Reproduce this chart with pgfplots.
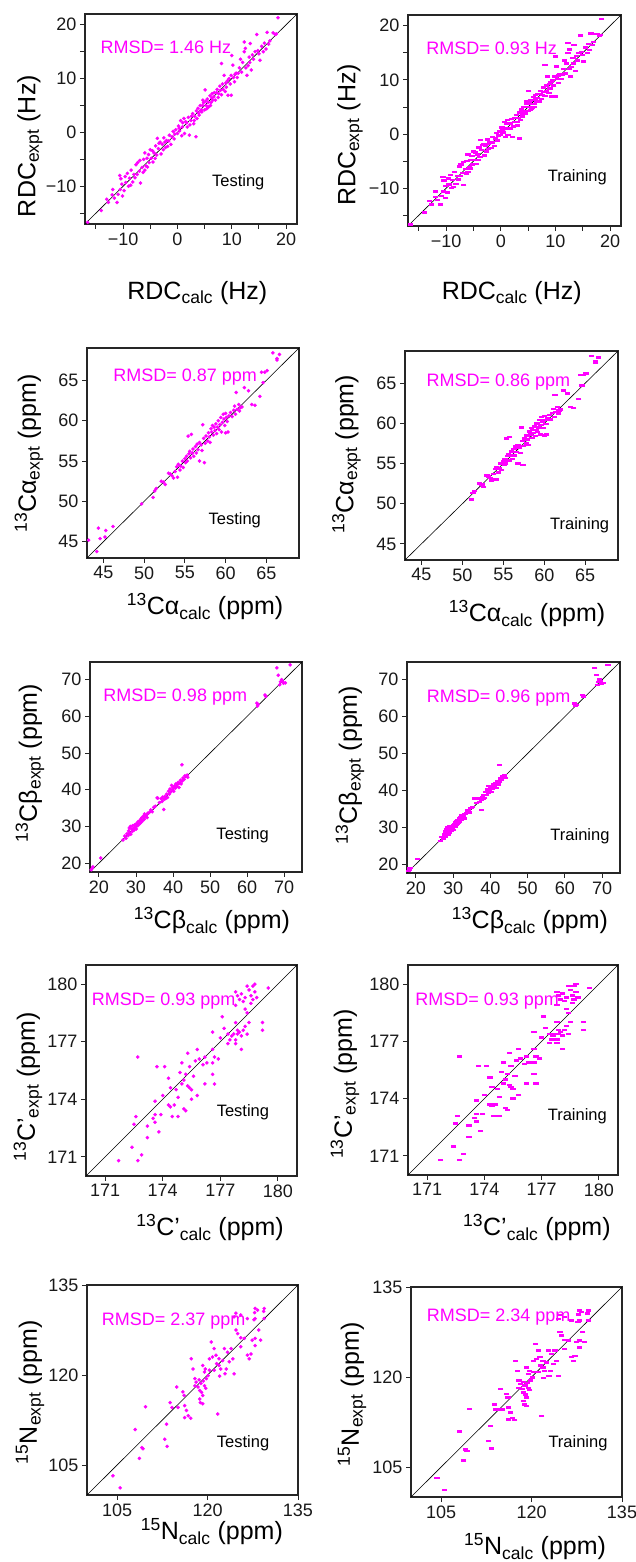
\documentclass[border=0pt]{standalone}
\usepackage{fontspec}
\setmainfont{Liberation Sans}
\usepackage{pgfplots}
\pgfplotsset{compat=1.18}
\usepackage{pgfplotstable}
\definecolor{mag}{RGB}{255,0,255}

\pgfplotstableread{
x y
-16.5 -16.7
-14.0 -14.5
-13.0 -12.4
-12.7 -13.0
-12.0 -11.6
-11.9 -10.6
-11.6 -12.2
-11.1 -13.0
-10.9 -11.5
-10.6 -8.0
-10.5 -10.6
-10.4 -8.6
-10.2 -9.6
-10.1 -11.8
-9.8 -10.8
-9.6 -8.2
-9.5 -9.3
-9.2 -7.6
-9.0 -10.0
-8.8 -8.5
-8.6 -9.8
-8.5 -7.0
-8.2 -9.2
-8.0 -7.8
-7.8 -8.4
-7.6 -6.0
-7.4 -7.8
-7.3 -5.6
-7.0 -7.2
-6.9 -5.2
-6.8 -9.4
-6.5 -6.5
-6.3 -7.4
-6.2 -5.0
-6.0 -3.8
-6.0 -7.0
-5.8 -6.2
-5.6 -4.8
-5.5 -6.4
-5.3 -4.1
-5.2 -5.6
-5.0 -3.2
-4.8 -4.8
-4.6 -3.4
-4.5 -5.5
-4.3 -3.8
-4.1 -4.8
-4.0 -2.5
-3.8 -4.2
-3.7 -1.1
-3.5 -3.0
-3.4 -2.0
-3.2 -1.8
-3.0 -4.0
-2.8 -2.2
-2.6 -3.2
-2.5 -1.0
-2.3 -1.8
-2.2 -2.8
-2.0 -1.5
-1.8 -2.6
-1.6 -1.6
-1.5 -0.5
-1.2 -2.2
-1.0 -0.8
-0.8 0.2
-0.6 -1.2
-0.5 -0.3
-0.3 0.5
0.0 -0.2
0.2 1.2
0.3 0.8
0.4 0.3
0.6 2.2
0.8 -0.6
0.9 1.0
1.0 1.8
1.2 2.6
1.3 -0.2
1.5 2.0
1.7 1.8
1.8 1.0
2.0 2.8
2.2 -0.5
2.3 1.4
2.5 2.2
2.6 3.0
2.8 3.5
3.0 1.6
3.1 2.2
3.2 3.0
3.4 -0.8
3.5 4.0
3.6 2.6
3.8 4.5
3.9 3.6
4.0 3.2
4.2 5.0
4.3 4.0
4.4 4.2
4.5 3.8
4.6 5.0
4.7 6.0
4.8 5.5
5.0 4.2
5.1 7.9
5.2 5.8
5.3 5.0
5.4 4.4
5.5 6.2
5.6 4.6
5.7 5.6
5.8 4.8
6.0 6.8
6.1 5.0
6.2 5.6
6.3 6.4
6.4 7.2
6.5 6.0
6.7 6.6
6.8 7.4
7.0 6.0
7.2 7.4
7.3 8.0
7.5 6.5
7.6 7.2
7.8 8.6
7.9 7.8
8.1 7.0
8.1 12.8
8.3 9.0
8.4 8.0
8.6 10.6
8.8 7.6
8.9 9.2
9.0 8.4
9.2 9.6
9.3 6.9
9.5 10.0
9.7 9.0
9.9 6.9
9.9 10.6
10.0 14.3
10.2 12.5
10.3 10.2
10.5 9.4
10.6 10.8
10.8 11.0
11.0 10.2
11.2 11.0
11.4 12.0
11.6 13.6
11.8 11.2
12.0 13.0
12.3 15.0
12.3 16.8
12.5 15.6
12.6 12.0
12.8 10.6
13.0 12.4
13.2 14.0
13.3 13.0
13.4 16.5
13.6 11.6
13.8 14.4
14.0 13.6
14.3 15.0
14.6 18.2
14.8 15.2
15.0 14.6
15.2 13.4
15.5 16.0
15.8 15.0
16.0 16.6
16.3 15.5
16.5 18.6
16.8 16.4
17.0 17.0
17.6 18.5
18.0 18.2
18.2 18.3
18.5 21.3
}\rdc

\pgfplotstableread{
x y
43.2 45.2
44.2 43.8
44.4 46.7
44.6 45.4
45.2 45.6
45.3 46.4
46.2 46.9
49.7 49.7
}\calow

\pgfplotstableread{
x y
51.1 50.5
51.3 51.3
51.5 51.6
52.1 52.5
52.4 52.4
52.6 52.1
53.0 53.5
53.2 53.4
53.4 53.2
53.6 52.9
53.8 53.7
54.0 54.3
54.1 53.0
54.2 54.6
54.4 53.9
54.5 54.4
54.7 55.0
54.8 54.2
55.0 55.3
55.1 54.8
55.2 55.6
55.3 55.0
55.4 58.1
55.5 55.9
55.6 56.2
55.7 55.4
55.8 58.3
55.9 56.0
56.0 56.5
56.1 55.6
56.3 56.8
56.4 56.0
56.5 57.1
56.6 56.4
56.8 55.0
56.8 57.3
57.0 57.0
57.1 56.3
57.2 59.5
57.3 57.8
57.4 54.8
57.5 57.2
57.6 58.1
57.8 57.5
57.9 58.5
58.0 58.0
58.1 57.3
58.2 59.0
58.3 58.6
58.4 59.4
58.5 58.2
58.6 59.2
58.7 58.8
58.8 59.6
58.9 58.4
59.0 59.2
59.1 60.0
59.2 58.9
59.3 59.5
59.4 60.4
59.5 58.6
59.6 59.8
59.7 60.8
59.8 60.2
59.9 59.4
60.0 58.5
60.0 60.9
60.1 60.4
60.2 59.9
60.3 58.6
60.4 60.6
60.6 61.0
60.8 60.5
61.0 61.3
61.1 61.8
61.2 60.8
61.3 63.5
61.4 61.4
61.6 62.0
61.7 61.2
61.8 61.6
62.0 61.7
62.3 64.1
62.8 63.7
63.2 62.0
63.6 61.9
64.2 63.0
64.4 66.0
64.6 64.7
64.8 66.0
65.1 66.2
65.8 68.4
66.3 67.5
66.3 67.7
66.6 68.2
}\ca

\pgfplotstableread{
x y
17.9 18.2
18.4 19.0
18.2 18.6
20.5 21.4
26.5 26.3
27.0 27.4
27.3 26.8
27.6 28.0
27.9 27.5
28.0 28.8
28.2 29.6
28.3 28.2
28.5 30.0
28.6 27.9
28.8 29.3
29.0 28.6
29.1 30.2
29.3 29.5
29.5 29.0
29.6 30.4
29.8 29.8
30.0 30.6
30.1 29.3
30.3 30.9
30.5 30.2
30.6 31.3
30.8 30.6
31.0 31.6
31.1 30.8
31.3 32.0
31.5 31.2
31.6 32.4
31.8 31.6
32.0 32.8
32.2 31.9
32.3 33.4
32.5 32.6
32.8 33.0
33.0 32.4
33.2 33.6
33.6 33.8
34.0 34.5
34.4 34.0
34.8 35.2
35.2 35.5
35.7 37.8
35.9 37.7
36.3 36.5
36.8 37.6
37.0 36.8
37.2 38.0
37.5 34.6
37.6 37.4
37.8 38.2
38.0 37.6
38.3 38.8
38.5 37.9
38.8 39.6
39.0 38.8
39.2 40.2
39.4 39.4
39.6 41.2
39.8 40.0
40.0 40.6
40.2 39.6
40.4 41.0
40.6 40.4
40.8 41.6
41.0 40.8
41.2 41.4
41.4 42.0
41.6 40.6
41.8 41.8
42.0 42.6
42.2 41.6
42.4 46.8
42.5 42.4
42.7 43.2
43.0 42.8
43.2 43.8
43.5 43.6
43.8 44.0
44.0 43.4
62.6 63.6
62.8 62.8
63.0 63.2
64.8 65.8
65.0 65.4
68.0 73.2
68.4 71.2
68.8 68.6
69.0 69.4
69.3 70.0
69.6 69.5
69.8 69.0
70.3 69.1
71.6 74.0
}\cb

\pgfplotstableread{
x y
171.7 170.8
172.4 171.5
172.7 170.8
172.9 171.1
173.2 172.0
172.5 172.7
172.6 173.1
172.7 176.2
173.2 172.6
173.5 173.0
173.6 172.8
173.6 173.2
173.8 172.3
173.9 173.2
173.6 173.9
173.7 175.7
174.0 174.2
174.1 175.7
174.3 173.7
174.4 173.6
174.6 173.7
174.5 173.1
174.3 175.1
174.4 174.6
174.7 174.5
174.8 174.1
174.8 173.1
174.9 175.4
175.0 175.9
175.0 174.8
175.1 173.5
175.2 173.4
175.1 175.0
175.2 175.3
175.3 174.7
175.4 175.7
175.3 176.4
175.4 174.6
175.5 174.5
175.6 175.2
175.7 176.0
175.8 174.2
175.5 174.0
175.9 176.1
175.8 176.6
176.1 175.8
176.2 176.2
176.3 175.9
176.2 174.8
176.6 175.9
176.6 175.3
176.6 176.6
176.7 176.2
176.7 174.8
176.6 177.5
176.9 176.1
177.0 177.2
177.2 177.7
177.1 178.3
177.4 177.4
177.4 176.9
177.5 177.1
177.6 177.3
177.7 177.4
177.8 177.1
177.8 176.9
177.8 178.0
177.9 177.6
177.9 177.4
178.0 177.5
178.1 177.3
178.2 177.6
178.1 176.6
178.3 177.8
178.4 177.4
178.5 178.0
178.3 178.7
178.4 178.5
178.2 179.1
178.3 179.3
177.8 178.9
177.8 179.6
177.9 179.4
178.0 179.2
178.1 179.5
178.4 179.9
178.5 179.7
178.6 179.4
178.7 179.9
178.8 180.0
178.8 179.6
178.6 179.0
178.7 179.2
178.9 179.3
179.5 179.8
179.2 178.0
179.2 177.6
}\cp

\pgfplotstableread{
x y
104.3 103.2
105.5 101.2
108.0 110.9
108.7 106.1
109.1 107.9
109.3 107.7
109.7 114.7
112.9 109.3
113.3 108.1
113.2 111.8
113.8 115.4
114.1 114.6
114.9 118.0
115.1 114.6
115.9 117.2
116.1 116.6
116.2 114.9
116.5 114.1
116.2 112.9
116.8 113.2
117.2 112.8
117.3 122.7
117.6 121.0
117.9 119.4
117.9 118.2
118.1 118.8
118.4 118.0
118.6 119.2
118.7 117.4
118.7 116.0
119.0 117.1
118.8 115.4
119.2 116.6
119.2 115.2
119.5 118.2
119.2 121.6
119.5 120.5
119.6 121.0
119.8 119.4
120.1 119.9
119.3 119.0
118.9 118.6
119.7 117.8
120.3 120.8
120.3 122.7
120.6 125.5
121.1 120.8
121.1 124.4
121.4 123.3
121.9 121.6
121.9 122.7
121.7 113.5
122.2 121.0
122.5 122.4
122.8 124.4
123.1 121.0
123.3 123.8
123.6 122.2
122.9 120.2
123.9 124.4
124.2 122.7
124.4 120.2
124.4 129.7
124.7 127.5
124.7 130.3
125.0 126.9
125.5 124.7
125.5 126.2
125.5 130.0
126.1 126.1
126.6 129.4
126.6 123.3
126.9 122.7
127.2 123.5
127.4 125.8
127.7 129.2
127.8 130.4
127.9 124.9
127.9 131.1
127.9 129.4
127.9 126.1
128.3 130.8
128.5 127.5
128.8 125.8
129.3 130.6
129.4 131.1
129.4 129.4
122.0 119.8
121.5 121.9
120.8 123.0
}\nn

\newcommand\lab{\fontsize{25}{29}\selectfont}
\newcommand\ann{\fontsize{18}{21}\selectfont}
\newcommand\annb{\fontsize{16.5}{19}\selectfont}

\pgfplotsset{
  panel/.style={
    scale only axis, anchor=south west,
    axis line style={black!85,line width=1.1pt},
    tick pos=left, tick align=outside,
    major tick length=5pt, minor tick length=5pt,
    every tick/.style={black!85,line width=0.9pt},
    ticklabel style={font=\fontsize{18}{21}\selectfont, black!90},
    label style={font=\lab},
    xlabel style={anchor=center},
    ylabel style={anchor=center},
  },
  test/.style={only marks, mark=*, mark size=1.6pt, color=mag},
  train/.style={only marks, mark=-, mark size=2.6pt, color=mag, mark options={line width=2.4pt}},
  diag/.style={black, line width=0.6pt, no marks},
  rdcax/.style={panel, xmin=-17, xmax=22, ymin=-17, ymax=22,
    xtick={-10,0,10,20}, xticklabels={−10,0,10,20},
    ytick={-10,0,10,20}, yticklabels={−10,0,10,20},
    minor xtick={-15,-5,5,15}, minor ytick={-15,-5,5,15},
    xlabel={RDC\textsubscript{calc} (Hz)}, ylabel={RDC\textsubscript{expt} (Hz)}},
  caax/.style={panel, xmin=43, xmax=69, ymin=43, ymax=69,
    xtick={45,50,55,60,65}, xticklabels={45,50,55,60,65},
    ytick={45,50,55,60,65}, yticklabels={45,50,55,60,65},
    xlabel={\textsuperscript{13}Cα\textsubscript{calc} (ppm)}, ylabel={\textsuperscript{13}Cα\textsubscript{expt} (ppm)}},
  cbax/.style={panel, xmin=17.6, xmax=74.8, ymin=17.6, ymax=74.8,
    xtick={20,30,40,50,60,70}, xticklabels={20,30,40,50,60,70},
    ytick={20,30,40,50,60,70}, yticklabels={20,30,40,50,60,70},
    xlabel={\textsuperscript{13}Cβ\textsubscript{calc} (ppm)}, ylabel={\textsuperscript{13}Cβ\textsubscript{expt} (ppm)}},
  cpax/.style={panel, xmin=170, xmax=181, ymin=170, ymax=181,
    xtick={171,174,177,180}, xticklabels={171,174,177,180},
    ytick={171,174,177,180}, yticklabels={171,174,177,180},
    xlabel={\textsuperscript{13}C’\textsubscript{calc} (ppm)}, ylabel={\textsuperscript{13}C’\textsubscript{expt} (ppm)}},
  nax/.style={panel, xmin=100, xmax=135, ymin=100, ymax=135,
    xtick={105,120,135}, xticklabels={105,120,135},
    ytick={105,120,135}, yticklabels={105,120,135},
    xlabel={\textsuperscript{15}N\textsubscript{calc} (ppm)}, ylabel={\textsuperscript{15}N\textsubscript{expt} (ppm)}},
}

\begin{document}
\begin{tikzpicture}
\useasboundingbox (0,0) rectangle (635pt,1562pt);

% Row 1: RDC
\begin{axis}[rdcax, at={(85pt,1338pt)}, width=212pt, height=210pt,
  xlabel style={at={(axis description cs:0.53,-0.329)}},
  ylabel style={at={(axis description cs:-0.26,0.371)}}]
\addplot[diag] coordinates {(-17,-17) (22,22)};
\addplot[test] table {\rdc};
\node[anchor=west, mag, font=\ann] at (rel axis cs:0.057,0.843) {RMSD= 1.46 Hz};
\node[anchor=west, font=\annb] at (rel axis cs:0.583,0.2) {Testing};
\end{axis}

\begin{axis}[rdcax, at={(408pt,1336pt)}, width=213pt, height=211pt,
  xlabel style={at={(axis description cs:0.487,-0.317)}},
  ylabel style={at={(axis description cs:-0.272,0.431)}}]
\addplot[diag] coordinates {(-17,-17) (22,22)};
\addplot[train] table {\rdc};
\node[anchor=west, mag, font=\ann] at (rel axis cs:0.07,0.844) {RMSD= 0.93 Hz};
\node[anchor=west, font=\annb] at (rel axis cs:0.64,0.232) {Training};
\end{axis}

% Row 2: C alpha
\begin{axis}[caax, at={(87pt,1004pt)}, width=212pt, height=210pt,
  xlabel style={at={(axis description cs:0.557,-0.233)}},
  ylabel style={at={(axis description cs:-0.274,0.498)}}]
\addplot[diag] coordinates {(43,43) (69,69)};
\addplot[test] table {\calow};
\addplot[test] table {\ca};
\node[anchor=west, mag, font=\ann] at (rel axis cs:0.108,0.863) {RMSD= 0.87 ppm};
\node[anchor=west, font=\annb] at (rel axis cs:0.557,0.18) {Testing};
\end{axis}

\begin{axis}[caax, at={(405pt,1002pt)}, width=213pt, height=209pt,
  xlabel style={at={(axis description cs:0.573,-0.258)}},
  ylabel style={at={(axis description cs:-0.275,0.507)}}]
\addplot[diag] coordinates {(43,43) (69,69)};
\addplot[train] table {\ca};
\node[anchor=west, mag, font=\ann] at (rel axis cs:0.085,0.853) {RMSD= 0.86 ppm};
\node[anchor=west, font=\annb] at (rel axis cs:0.665,0.167) {Training};
\end{axis}

% Row 3: C beta
\begin{axis}[cbax, at={(90pt,690pt)}, width=212pt, height=210pt,
  xlabel style={at={(axis description cs:0.575,-0.233)}},
  ylabel style={at={(axis description cs:-0.283,0.519)}}]
\addplot[diag] coordinates {(17.6,17.6) (74.8,74.8)};
\addplot[test] table {\cb};
\node[anchor=west, mag, font=\ann] at (rel axis cs:0.047,0.835) {RMSD= 0.98 ppm};
\node[anchor=west, font=\annb] at (rel axis cs:0.58,0.176) {Testing};
\end{axis}

\begin{axis}[cbax, at={(407pt,689pt)}, width=213pt, height=211pt,
  xlabel style={at={(axis description cs:0.577,-0.227)}},
  ylabel style={at={(axis description cs:-0.268,0.512)}}]
\addplot[diag] coordinates {(17.6,17.6) (74.8,74.8)};
\addplot[train] table {\cb};
\node[anchor=west, mag, font=\ann] at (rel axis cs:0.077,0.83) {RMSD= 0.96 ppm};
\node[anchor=west, font=\annb] at (rel axis cs:0.657,0.172) {Training};
\end{axis}

% Row 4: C'
\begin{axis}[cpax, at={(86pt,386pt)}, width=211pt, height=211pt,
  xlabel style={at={(axis description cs:0.588,-0.246)}},
  ylabel style={at={(axis description cs:-0.275,0.422)}}]
\addplot[diag] coordinates {(170,170) (181,181)};
\addplot[test] table {\cp};
\node[anchor=west, mag, font=\ann] at (rel axis cs:0.011,0.83) {RMSD= 0.93 ppm};
\node[anchor=west, font=\annb] at (rel axis cs:0.603,0.302) {Testing};
\end{axis}

\begin{axis}[cpax, at={(408pt,387pt)}, width=210pt, height=210pt,
  xlabel style={at={(axis description cs:0.614,-0.252)}},
  ylabel style={at={(axis description cs:-0.3,0.433)}}]
\addplot[diag] coordinates {(170,170) (181,181)};
\addplot[train] table {\cp};
\node[anchor=west, mag, font=\ann] at (rel axis cs:0.018,0.826) {RMSD= 0.93 ppm};
\node[anchor=west, font=\annb] at (rel axis cs:0.649,0.278) {Training};
\end{axis}

% Row 5: N
\begin{axis}[nax, at={(87pt,67pt)}, width=211pt, height=210pt,
  xlabel style={at={(axis description cs:0.592,-0.176)}},
  ylabel style={at={(axis description cs:-0.27,0.49)}}]
\addplot[diag] coordinates {(100,100) (135,135)};
\addplot[test] table {\nn};
\node[anchor=west, mag, font=\ann] at (rel axis cs:0.054,0.829) {RMSD= 2.37 ppm};
\node[anchor=west, font=\annb] at (rel axis cs:0.599,0.246) {Testing};
\end{axis}

\begin{axis}[nax, at={(411pt,65pt)}, width=211pt, height=210pt,
  xlabel style={at={(axis description cs:0.588,-0.238)}},
  ylabel style={at={(axis description cs:-0.28,0.49)}}]
\addplot[diag] coordinates {(100,100) (135,135)};
\addplot[train] table {\nn};
\node[anchor=west, mag, font=\ann] at (rel axis cs:0.058,0.856) {RMSD= 2.34 ppm};
\node[anchor=west, font=\annb] at (rel axis cs:0.635,0.256) {Training};
\end{axis}
\end{tikzpicture}
\end{document}
